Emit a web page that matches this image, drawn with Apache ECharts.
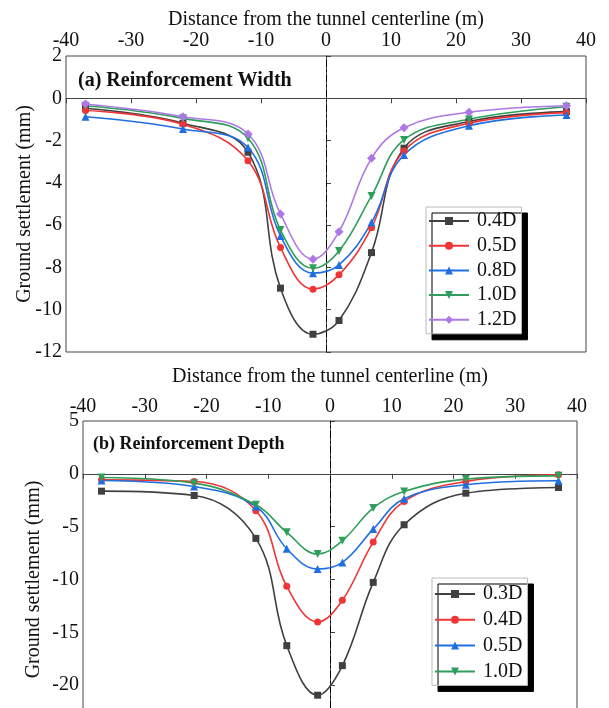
<!DOCTYPE html>
<html><head><meta charset="utf-8">
<script src="https://cdn.jsdelivr.net/npm/echarts@6/dist/echarts.min.js"></script>
<style>html,body{margin:0;padding:0;background:#fff}#c{width:609px;height:708px}</style>
</head><body><div id="c"></div>
<script>
// ---- data ----
const xPos = [-37, -22, -12, -7, -2, 2, 7, 12, 22, 37];
const xTicks = [-40, -30, -20, -10, 0, 10, 20, 30, 40];

const widthNames = ['0.4D', '0.5D', '0.8D', '1.0D', '1.2D'];
const w04 = [-0.47, -1.18, -2.55, -8.98, -11.16, -10.51, -7.30, -2.36, -1.10, -0.63];
const w05 = [-0.58, -1.23, -2.96, -7.06, -9.03, -8.35, -6.12, -2.49, -1.18, -0.68];
const w08 = [-0.87, -1.45, -2.33, -6.51, -8.27, -7.88, -5.88, -2.68, -1.30, -0.79];
const w10 = [-0.35, -0.95, -1.89, -6.23, -8.04, -7.22, -4.62, -1.97, -0.99, -0.40];
const w12 = [-0.27, -0.87, -1.69, -5.47, -7.61, -6.31, -2.84, -1.39, -0.66, -0.35];

const depthNames = ['0.3D', '0.4D', '0.5D', '1.0D'];
const d03 = [-1.64, -2.05, -6.11, -16.26, -20.95, -18.15, -10.27, -4.82, -1.83, -1.29];
const d04 = [-0.57, -0.72, -3.50, -10.65, -14.02, -11.97, -6.46, -2.61, -0.72, -0.09];
const d05 = [-0.63, -1.20, -3.09, -7.09, -9.01, -8.38, -5.23, -2.36, -1.04, -0.66];
const d10 = [-0.35, -0.88, -2.93, -5.54, -7.59, -6.33, -3.24, -1.67, -0.50, -0.19];

// ---- styles ----
const FONT = '"Liberation Serif", "Times New Roman", serif';
const colors = {black:'#404040', red:'#ef3535', blue:'#1f6fe0', green:'#2e9e5b', purple:'#ad78e6'};
const marks = {
  black:{symbol:'rect', size:7, rot:0},
  red:{symbol:'circle', size:7, rot:0},
  blue:{symbol:'triangle', size:8, rot:0},
  green:{symbol:'triangle', size:8, rot:180},
  purple:{symbol:'diamond', size:9, rot:0}
};

function zip(ys){ return xPos.map((x,i)=>[x, ys[i]]); }
function mkSeries(prefix, name, ys, key, idx, withMark){
  const m = marks[key];
  const s = {
    name: prefix + name, type:'line', xAxisIndex: idx, yAxisIndex: idx,
    data: zip(ys), smooth: 0.4, symbol: m.symbol, symbolSize: m.size, symbolRotate: m.rot,
    showSymbol: true,
    lineStyle:{color: colors[key], width: 1.6},
    itemStyle:{color: colors[key]},
    z: 3
  };
  if (withMark) {
    s.markLine = {
      silent: true, symbol:['none','none'], label:{show:false},
      lineStyle:{color:'#000', width:1, type:[7,3,2,3]},
      data:[{xAxis:0}], z: 1
    };
  }
  return s;
}

const series = [
  mkSeries('a:', widthNames[0], w04, 'black', 0, true),
  mkSeries('a:', widthNames[1], w05, 'red', 0),
  mkSeries('a:', widthNames[2], w08, 'blue', 0),
  mkSeries('a:', widthNames[3], w10, 'green', 0),
  mkSeries('a:', widthNames[4], w12, 'purple', 0),
  mkSeries('b:', depthNames[0], d03, 'black', 1, true),
  mkSeries('b:', depthNames[1], d04, 'red', 1),
  mkSeries('b:', depthNames[2], d05, 'blue', 1),
  mkSeries('b:', depthNames[3], d10, 'green', 1)
];

function xAxisCfg(idx, gap, margin){
  return {
    type:'value', gridIndex: idx, position:'top', min: xTicks[0], max: xTicks[xTicks.length-1], interval: 10,
    name:'Distance from the tunnel centerline (m)', nameLocation:'middle', nameGap: gap, nameMoveOverlap:false,
    nameTextStyle:{fontFamily:FONT, fontSize:20, color:'#111'},
    axisLine:{show:true, lineStyle:{color:'#444', width:1}},
    axisTick:{show:true, inside:true, length:5, lineStyle:{color:'#444'}},
    axisLabel:{fontFamily:FONT, fontSize:20, color:'#111', margin:margin},
    splitLine:{show:false}
  };
}
function yAxisCfg(idx, min, max, interval, gap){
  return {
    type:'value', gridIndex: idx, min, max, interval,
    name:'Ground settlement (mm)', nameLocation:'middle', nameGap: gap, nameRotate: 90, nameMoveOverlap:false,
    nameTextStyle:{fontFamily:FONT, fontSize:20, color:'#111'},
    axisLine:{show:true, lineStyle:{color:'#444', width:1}},
    axisTick:{show:true, inside:true, length:5, lineStyle:{color:'#444'}},
    axisLabel:{fontFamily:FONT, fontSize:20, color:'#111', margin:4},
    splitLine:{show:false}
  };
}

function legendCfg(prefix, names, left, top, gap, padTop){
  return {
    orient:'vertical', left, top,
    data: names.map(n=>prefix+n),
    formatter: n => n.split(':')[1],
    itemWidth: 40, itemHeight: 10, itemGap: gap,
    padding:[padTop, 5, 4, 2],
    textStyle:{fontFamily:FONT, fontSize:20, color:'#111', lineHeight:20, padding:[0,0,0,3]},
    backgroundColor:'#fff', borderColor:'#bbb', borderWidth:1,
    shadowColor:'#000', shadowBlur:0, shadowOffsetX:6, shadowOffsetY:6,
    selectedMode:false
  };
}

const option = {
  animation:false,
  backgroundColor:'#fff',
  grid:[
    {left:66, top:56, width:520, height:296, show:true, borderColor:'#444', borderWidth:1, backgroundColor:'transparent', outerBoundsMode:'none', containLabel:false},
    {left:83, top:421, width:494, height:317, show:true, borderColor:'#444', borderWidth:1, backgroundColor:'transparent', outerBoundsMode:'none', containLabel:false}
  ],
  xAxis:[ xAxisCfg(0, 26, 5), xAxisCfg(1, 34, 4) ],
  yAxis:[ yAxisCfg(0, -12, 2, 2, 31), yAxisCfg(1, -25, 5, 5, 39) ],
  legend:[
    legendCfg('a:', widthNames, 426, 207, 4.7, 4),
    legendCfg('b:', depthNames, 432, 578, 5.8, 6)
  ],
  graphic:[
    {type:'text', left:78, top:71, style:{text:'(a) Reinforcement Width', font:'bold 20px ' + FONT, fill:'#111'}},
    {type:'text', left:93, top:435, style:{text:'(b) Reinforcement Depth', font:'bold 18px ' + FONT, fill:'#111'}}
  ],
  series
};
const chart = echarts.init(document.getElementById('c'), null, {renderer:'canvas'});
chart.setOption(option);
</script></body></html>
